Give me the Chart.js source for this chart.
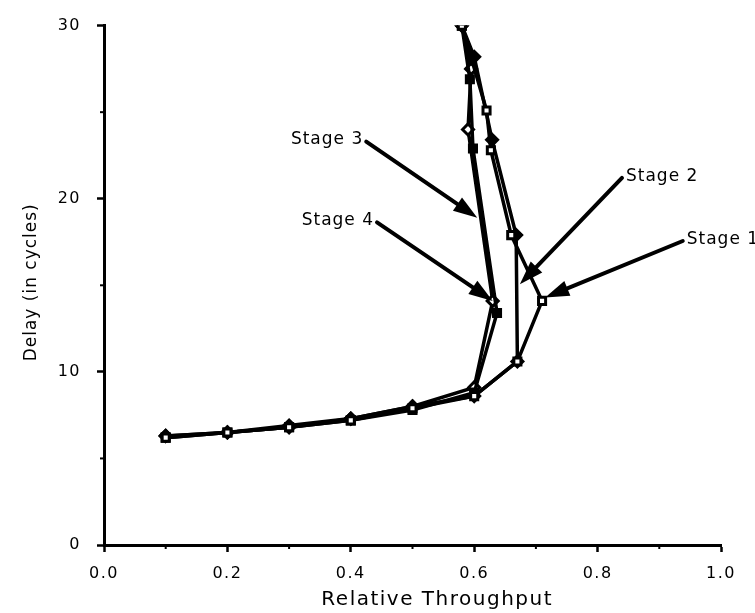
<!DOCTYPE html>
<html>
<head>
<meta charset="utf-8">
<script src="https://cdn.jsdelivr.net/npm/chart.js@4.4.1/dist/chart.umd.min.js"></script>
<style>
  html, body { margin: 0; padding: 0; background: #fff; }
  #wrap { width: 755px; height: 613px; }
</style>
</head>
<body>
<div id="wrap"><canvas id="chart" width="755" height="613"></canvas></div>
<script>
// Valori (throughput relativo / ritardo in cicli)
const stage1X = [0.1, 0.2, 0.3, 0.4, 0.5, 0.6, 0.67, 0.71, 0.66, 0.627, 0.62, 0.58];
const stage1Y = [6.2, 6.5, 6.8, 7.2, 7.9, 8.6, 10.6, 14.1, 17.9, 22.8, 25.1, 30];

const stage2X = [0.1, 0.2, 0.3, 0.4, 0.5, 0.6, 0.67, 0.668, 0.629, 0.6, 0.58];
const stage2Y = [6.3, 6.5, 6.8, 7.3, 8.0, 8.6, 10.6, 17.9, 23.4, 28.2, 30];

const stage3X = [0.1, 0.2, 0.3, 0.4, 0.5, 0.6, 0.637, 0.598, 0.593, 0.58];
const stage3Y = [6.2, 6.5, 6.8, 7.2, 7.8, 8.8, 13.4, 22.9, 26.9, 30];

const stage4X = [0.1, 0.2, 0.3, 0.4, 0.5, 0.6, 0.63, 0.59, 0.595, 0.58];
const stage4Y = [6.3, 6.5, 6.9, 7.3, 8.0, 9.1, 14.1, 24.0, 27.5, 30];

const xTicks = [0.0, 0.2, 0.4, 0.6, 0.8, 1.0];
const yTicks = [0, 10, 20, 30];
const xMinorTicks = [0.1, 0.3, 0.5, 0.7, 0.9];
const yMinorTicks = [5, 15, 25];

const xTitle = 'Relative Throughput';
const yTitle = 'Delay (in cycles)';

// Etichette con freccia: testo, punto di partenza, punta (coordinate dati)
const stageNames = ['Stage 1', 'Stage 2', 'Stage 3', 'Stage 4'];
const arrowFromX = [0.938, 0.8395, 0.425, 0.4425];
const arrowFromY = [17.56, 21.2, 23.3, 18.64];
const arrowToX = [0.715, 0.674, 0.605, 0.630];
const arrowToY = [14.3, 15.06, 18.9, 14.1];
const labelSide = ['right', 'right', 'left', 'left'];

const toPoints = (xs, ys) => xs.map((x, i) => ({ x: x, y: ys[i] }));

const FONT = "'DejaVu Sans', 'Liberation Sans', sans-serif";
const SPACING = '1.5px';

const makeSeries = (label, xs, ys, style, filled) => ({
    label: label,
    data: toPoints(xs, ys),
    showLine: true,
    borderColor: '#000',
    borderWidth: 3.5,
    pointStyle: style,
    pointRadius: style === 'rectRot' ? 5.5 : 5,
    pointBorderWidth: 3,
    pointBorderColor: '#000',
    pointBackgroundColor: filled ? '#000' : '#fff',
    tension: 0
});

// Spaziatura lettere simile al font originale (etichette dei tick)
const spacingPlugin = {
    id: 'letterSpacing',
    beforeUpdate(chart) { chart.ctx.letterSpacing = SPACING; },
    beforeDraw(chart) { chart.ctx.letterSpacing = SPACING; }
};

// Tacche secondarie e titoli degli assi
const axesExtrasPlugin = {
    id: 'axesExtras',
    afterDraw(chart) {
        const { ctx, scales: { x, y } } = chart;
        ctx.save();
        ctx.strokeStyle = '#000';
        ctx.fillStyle = '#000';
        ctx.lineWidth = 2;
        xMinorTicks.forEach(v => {
            const px = x.getPixelForValue(v);
            ctx.beginPath();
            ctx.moveTo(px, y.bottom);
            ctx.lineTo(px, y.bottom + 4);
            ctx.stroke();
        });
        yMinorTicks.forEach(v => {
            const py = y.getPixelForValue(v);
            ctx.beginPath();
            ctx.moveTo(x.left, py);
            ctx.lineTo(x.left - 4, py);
            ctx.stroke();
        });

        // titolo asse x (leggermente spostato a destra come nell'originale)
        ctx.textAlign = 'center';
        ctx.textBaseline = 'middle';
        ctx.font = '20px ' + FONT;
        ctx.letterSpacing = '1.5px';
        ctx.fillText(xTitle, x.getPixelForValue(0.54), chart.height - 13);

        // titolo asse y
        ctx.font = '17px ' + FONT;
        ctx.letterSpacing = '1px';
        ctx.translate(32, (y.top + y.bottom) / 2 - 3);
        ctx.rotate(-Math.PI / 2);
        ctx.fillText(yTitle, 0, 0);
        ctx.restore();
    }
};

// Frecce con etichette "Stage n"
const arrowsPlugin = {
    id: 'stageArrows',
    afterDatasetsDraw(chart) {
        const { ctx, scales: { x, y } } = chart;
        ctx.save();
        ctx.strokeStyle = '#000';
        ctx.fillStyle = '#000';
        ctx.lineWidth = 4;
        ctx.lineCap = 'round';
        ctx.font = '17px ' + FONT;
        ctx.letterSpacing = '1px';
        ctx.textBaseline = 'middle';
        stageNames.forEach((name, i) => {
            const x0 = x.getPixelForValue(arrowFromX[i]);
            const y0 = y.getPixelForValue(arrowFromY[i]);
            const x1 = x.getPixelForValue(arrowToX[i]);
            const y1 = y.getPixelForValue(arrowToY[i]);
            const ang = Math.atan2(y1 - y0, x1 - x0);
            const headLen = 24;
            const headW = 8;
            const bx = x1 - headLen * Math.cos(ang);
            const by = y1 - headLen * Math.sin(ang);
            ctx.beginPath();
            ctx.moveTo(x0, y0);
            ctx.lineTo(bx, by);
            ctx.stroke();
            ctx.beginPath();
            ctx.moveTo(x1, y1);
            ctx.lineTo(bx + headW * Math.sin(ang), by - headW * Math.cos(ang));
            ctx.lineTo(bx - headW * Math.sin(ang), by + headW * Math.cos(ang));
            ctx.closePath();
            ctx.fill();
            if (labelSide[i] === 'right') {
                ctx.textAlign = 'left';
                ctx.fillText(name, x0 + 4, y0 - 1);
            } else {
                ctx.textAlign = 'right';
                ctx.fillText(name, x0 - 3, y0 - 2);
            }
        });
        ctx.restore();
    }
};

new Chart(document.getElementById('chart'), {
    type: 'scatter',
    data: {
        datasets: [
            makeSeries('Stage 1', stage1X, stage1Y, 'rect', false),
            makeSeries('Stage 2', stage2X, stage2Y, 'rectRot', true),
            makeSeries('Stage 3', stage3X, stage3Y, 'rect', true),
            makeSeries('Stage 4', stage4X, stage4Y, 'rectRot', false)
        ]
    },
    options: {
        responsive: false,
        animation: false,
        layout: { padding: { left: 0, right: 34, top: 17, bottom: 0 } },
        plugins: {
            legend: { display: false },
            tooltip: { enabled: false }
        },
        scales: {
            x: {
                type: 'linear',
                min: 0,
                max: 1,
                afterBuildTicks: (scale) => { scale.ticks = xTicks.map(v => ({ value: v })); },
                afterFit: (scale) => { scale.height = 68; },
                border: { color: '#000', width: 3 },
                grid: { drawOnChartArea: false, color: '#000', tickLength: 7, tickWidth: 2.5 },
                ticks: {
                    color: '#000',
                    padding: 12,
                    maxRotation: 0,
                    font: { family: FONT, size: 16 },
                    callback: (v) => Number(v).toFixed(1)
                },
                title: { display: false }
            },
            y: {
                type: 'linear',
                min: 0,
                max: 30,
                afterBuildTicks: (scale) => { scale.ticks = yTicks.map(v => ({ value: v })); },
                afterFit: (scale) => { scale.width = 104; },
                border: { color: '#000', width: 3 },
                grid: { drawOnChartArea: false, color: '#000', tickLength: 7, tickWidth: 2.5 },
                ticks: {
                    color: '#000',
                    padding: 16,
                    font: { family: FONT, size: 16 }
                },
                title: { display: false }
            }
        }
    },
    plugins: [spacingPlugin, axesExtrasPlugin, arrowsPlugin]
});
</script>
</body>
</html>
